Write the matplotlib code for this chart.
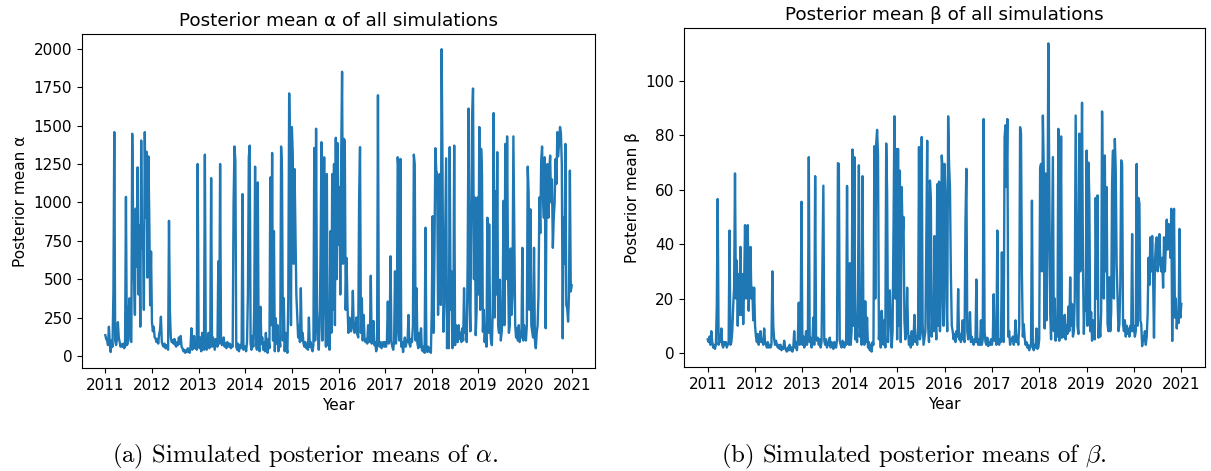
import numpy as np
import pandas as pd
import matplotlib
matplotlib.use("Agg")
import matplotlib.pyplot as plt
import matplotlib.dates as mdates
from matplotlib.ticker import MultipleLocator

# weekly posterior means of alpha (one list per year)
alpha_2011 = [135, 110, 100, 70, 190, 80, 25, 100, 60, 410, 1458, 100, 70,
              110, 220, 120, 90, 60, 75, 60, 80, 50, 60, 1036, 70, 80,
              290, 375, 100, 90, 1447, 900, 500, 267, 960, 580, 1228, 400, 850,
              190, 1403, 700, 835, 300, 1458, 900, 1330, 510, 1300, 920, 330, 680]
alpha_2012 = [220, 160, 190, 120, 115, 90, 110, 80, 140, 170, 255, 90, 70,
              60, 80, 50, 70, 55, 40, 880, 300, 120, 90, 100, 80, 110,
              70, 60, 90, 70, 120, 80, 130, 60, 50, 30, 40, 20, 35,
              25, 50, 30, 20, 60, 180, 40, 70, 130, 50, 100, 40, 1250]
alpha_2013 = [100, 50, 120, 30, 150, 60, 40, 1311, 80, 40, 100, 150, 50,
              90, 1158, 60, 120, 80, 40, 110, 90, 60, 616, 80, 1250, 100,
              70, 90, 120, 60, 80, 50, 90, 70, 60, 80, 50, 70, 60,
              988, 1364, 1272, 60, 40, 80, 30, 70, 50, 90, 1054, 40, 60]
alpha_2014 = [60, 30, 90, 400, 1294, 1370, 80, 40, 130, 60, 300, 1233, 100,
              40, 1130, 60, 30, 320, 80, 120, 40, 90, 30, 150, 60, 20,
              110, 50, 1163, 200, 1322, 100, 813, 30, 245, 80, 200, 30, 120,
              60, 1364, 1207, 100, 376, 30, 150, 60, 20, 370, 1710, 1316, 200]
alpha_2015 = [1491, 1316, 600, 1217, 813, 400, 267, 120, 200, 90, 441, 100, 150,
              80, 60, 90, 50, 70, 40, 250, 60, 90, 50, 30, 70, 1355,
              100, 1480, 300, 160, 40, 200, 660, 1392, 100, 350, 1294, 420, 60,
              1185, 70, 200, 40, 813, 150, 1185, 300, 1250, 200, 1421, 500, 1386]
alpha_2016 = [725, 1100, 400, 1300, 1851, 600, 1414, 1403, 300, 638, 332, 150, 250,
              200, 160, 220, 424, 180, 150, 190, 250, 140, 120, 1032, 1360, 150,
              376, 100, 267, 120, 90, 110, 80, 200, 90, 100, 522, 80, 110,
              227, 70, 90, 30, 60, 1698, 80, 60, 90, 50, 70, 90, 60]
alpha_2017 = [90, 60, 100, 354, 80, 120, 649, 90, 60, 40, 100, 551, 80,
              150, 1294, 1207, 100, 1283, 60, 90, 25, 80, 120, 60, 100, 90,
              267, 80, 60, 110, 90, 200, 1311, 1250, 100, 441, 80, 50, 150,
              60, 180, 40, 30, 60, 20, 835, 40, 25, 60, 30, 50, 20]
alpha_2018 = [300, 910, 150, 680, 1353, 1207, 1185, 267, 900, 1185, 332, 1998, 1207,
              157, 332, 800, 1287, 50, 200, 50, 1360, 300, 550, 50, 150, 1370,
              70, 200, 120, 90, 200, 110, 150, 90, 180, 100, 441, 150, 200,
              90, 600, 1611, 400, 160, 900, 1556, 1742, 500, 1032, 135, 300, 1032]
alpha_2019 = [400, 1491, 300, 1349, 1185, 157, 300, 90, 200, 60, 900, 150, 857,
              200, 100, 70, 300, 1582, 250, 1073, 400, 1327, 200, 150, 496, 100,
              157, 300, 1010, 200, 1381, 500, 1430, 590, 150, 200, 700, 267, 400,
              1430, 813, 200, 120, 180, 100, 200, 90, 150, 120, 704, 100, 200]
alpha_2020 = [150, 100, 200, 1233, 1054, 300, 955, 200, 157, 120, 704, 100, 50,
              150, 200, 400, 1032, 800, 1272, 1364, 1032, 900, 1294, 180, 1100, 1250,
              900, 1200, 1305, 1000, 1150, 704, 900, 1000, 1283, 1120, 1458, 1300, 1400,
              1491, 1450, 1250, 114, 900, 600, 1381, 332, 310, 223, 400, 1207, 420, 460]

# weekly posterior means of beta
beta_2011 = [5, 4, 6, 3, 8, 4, 2, 3, 1.5, 3, 17, 56.6, 3,
             5, 4, 9, 3, 2, 4, 3, 4, 2, 3, 4, 45, 3,
             4, 8, 17, 24, 66, 20, 34, 10, 29, 14, 39, 14, 29,
             10.6, 25, 47, 20, 24, 47, 15.5, 30, 39, 20, 24, 12, 24]
beta_2012 = [10, 6, 4, 7, 3, 5, 8, 4, 5, 3, 9, 4, 3,
             2, 4, 2, 3, 2, 3, 30, 10, 5, 3, 4.5, 3, 2,
             3, 1.5, 3, 1, 2, 1.5, 4.5, 2, 1, 0.5, 2, 1, 3,
             1, 2, 0.5, 2, 8, 2, 4, 1, 5, 18.5, 3, 6, 55.6]
beta_2013 = [3, 6, 2, 4, 8, 3, 5.6, 72, 4, 5.6, 2, 4, 13,
             3, 65, 5, 4.5, 5.6, 3, 5, 2, 4, 32, 61.5, 4.5, 3,
             5, 2, 4, 3, 5.6, 2, 4, 3, 1.5, 4, 3, 2, 5,
             69.8, 69.5, 4.5, 3, 2, 4.5, 3, 2, 4, 3, 61.4, 4.5, 3]
beta_2014 = [33, 3, 8, 74.8, 10, 72, 5, 14, 4, 23, 69, 6, 10.6,
             3, 65, 8, 3, 19, 4, 13, 2, 4, 1, 3, 0.5, 4,
             3, 76, 20, 77, 82, 73, 5, 14, 2, 15.5, 10.6, 3, 12,
             2, 77, 59, 4, 21.6, 23, 10.6, 2, 8, 45, 87, 20, 75]
beta_2015 = [5, 75, 10, 67, 4, 61, 42.5, 50, 12, 5, 8, 24, 8,
             3, 6, 2, 8, 3, 5, 14, 4, 6, 3, 10, 75.7, 5,
             8, 79.4, 10.6, 3, 5.6, 8, 40, 78, 10.6, 4, 63.4, 57, 6,
             17, 8, 43, 14, 5, 62, 10, 63, 8, 20, 72.6, 67, 10]
beta_2016 = [69.5, 59.7, 20, 8, 87, 69.5, 61, 29, 10, 8, 5, 7, 4,
             8, 6, 23.5, 5, 7, 4, 6, 12, 5, 4, 47.4, 67.7, 8,
             5, 7, 15, 4, 6, 4.5, 3, 5, 4, 27, 4.5, 3, 5,
             3, 12, 3, 5, 86, 8, 4, 3, 5.6, 2.5, 4, 3, 5]
beta_2017 = [3, 5, 21.6, 4.5, 6, 3, 45, 4.5, 3, 5, 4, 37, 6,
             4, 79.4, 83.7, 61, 86, 6, 8, 3, 5, 4.5, 6, 3, 5,
             12, 4, 6, 3, 10, 83, 80.6, 29, 6, 10.6, 5.6, 3, 4,
             2, 3, 1, 2, 3, 56, 2, 1, 3, 2, 9, 1.5, 2]
beta_2018 = [5, 68, 69.5, 30, 87.3, 67, 9, 66, 12, 40, 113.8, 65, 15.5,
             5, 39, 72, 8, 20, 4.5, 11, 6, 82.4, 4.5, 23, 79.6, 5.6,
             10, 6, 14, 5, 10, 7, 17, 8, 27.8, 10, 18, 6, 8,
             20, 87.3, 48.6, 10, 7, 80.6, 30, 57, 92, 32.7, 7, 20, 15.5]
beta_2019 = [74.4, 10, 70, 57, 8, 15, 4.5, 12, 10.6, 5, 57, 20, 57.9,
             5.6, 10.6, 6, 15, 88.8, 57, 20, 72.6, 30, 61, 10.6, 8, 27.8,
             8, 15, 62.8, 74.4, 20, 78.7, 67, 32.7, 20, 8, 10.6, 25, 70.8,
             69.5, 10.6, 8, 12, 6, 10, 7, 9, 6, 10, 8, 43.7, 8]
beta_2020 = [10, 6, 8, 69.5, 10, 57, 54.8, 12, 10.6, 2.5, 6, 4.5, 8,
             3, 6, 14, 35, 25, 42.5, 30, 43, 28, 5.6, 32.7, 40, 42.5,
             30, 35, 43.7, 32.7, 30, 35, 24, 42.5, 30, 40, 49, 38, 47.4,
             43.7, 35, 53, 4.4, 40, 53, 13, 20, 9, 15, 11, 45.6, 13, 18]

alpha = np.concatenate([alpha_2011, alpha_2012, alpha_2013, alpha_2014, alpha_2015,
                        alpha_2016, alpha_2017, alpha_2018, alpha_2019, alpha_2020])
beta = np.concatenate([beta_2011, beta_2012, beta_2013, beta_2014, beta_2015,
                       beta_2016, beta_2017, beta_2018, beta_2019, beta_2020])
dates_a = pd.date_range("2011-01-01", "2020-12-31", periods=len(alpha))
dates_b = pd.date_range("2011-01-01", "2020-12-31", periods=len(beta))

plt.rcParams["mathtext.fontset"] = "cm"
W, H = 1211, 471
fig = plt.figure(figsize=(W / 100, H / 100), dpi=100)

def px_axes(x0, y0, x1, y1):
    return fig.add_axes([x0 / W, 1 - y1 / H, (x1 - x0) / W, (y1 - y0) / H])

ax1 = px_axes(82, 34, 595, 368)
ax2 = px_axes(684, 28, 1205, 367)

panels = [
    (ax1, dates_a, alpha, "Posterior mean α of all simulations", "Posterior mean α", 250),
    (ax2, dates_b, beta, "Posterior mean β of all simulations", "Posterior mean β", 20),
]
for ax, d, v, title, ylab, step in panels:
    ax.plot(d, v, color="#1f77b4", lw=1.7)
    ax.set_title(title, fontsize=13.2)
    ax.set_xlabel("Year", fontsize=11)
    ax.set_ylabel(ylab, fontsize=11)
    ax.xaxis.set_major_locator(mdates.YearLocator())
    ax.xaxis.set_major_formatter(mdates.DateFormatter("%Y"))
    ax.yaxis.set_major_locator(MultipleLocator(step))
    ax.tick_params(labelsize=11)

fig.text(305 / W, 1 - 456 / H, r"(a) Simulated posterior means of $\alpha$.",
         family="cmr10", fontsize=17.8, ha="center", va="center")
fig.text(914 / W, 1 - 456 / H, r"(b) Simulated posterior means of $\beta$.",
         family="cmr10", fontsize=17.8, ha="center", va="center")

fig.savefig("out.png", dpi=100)
